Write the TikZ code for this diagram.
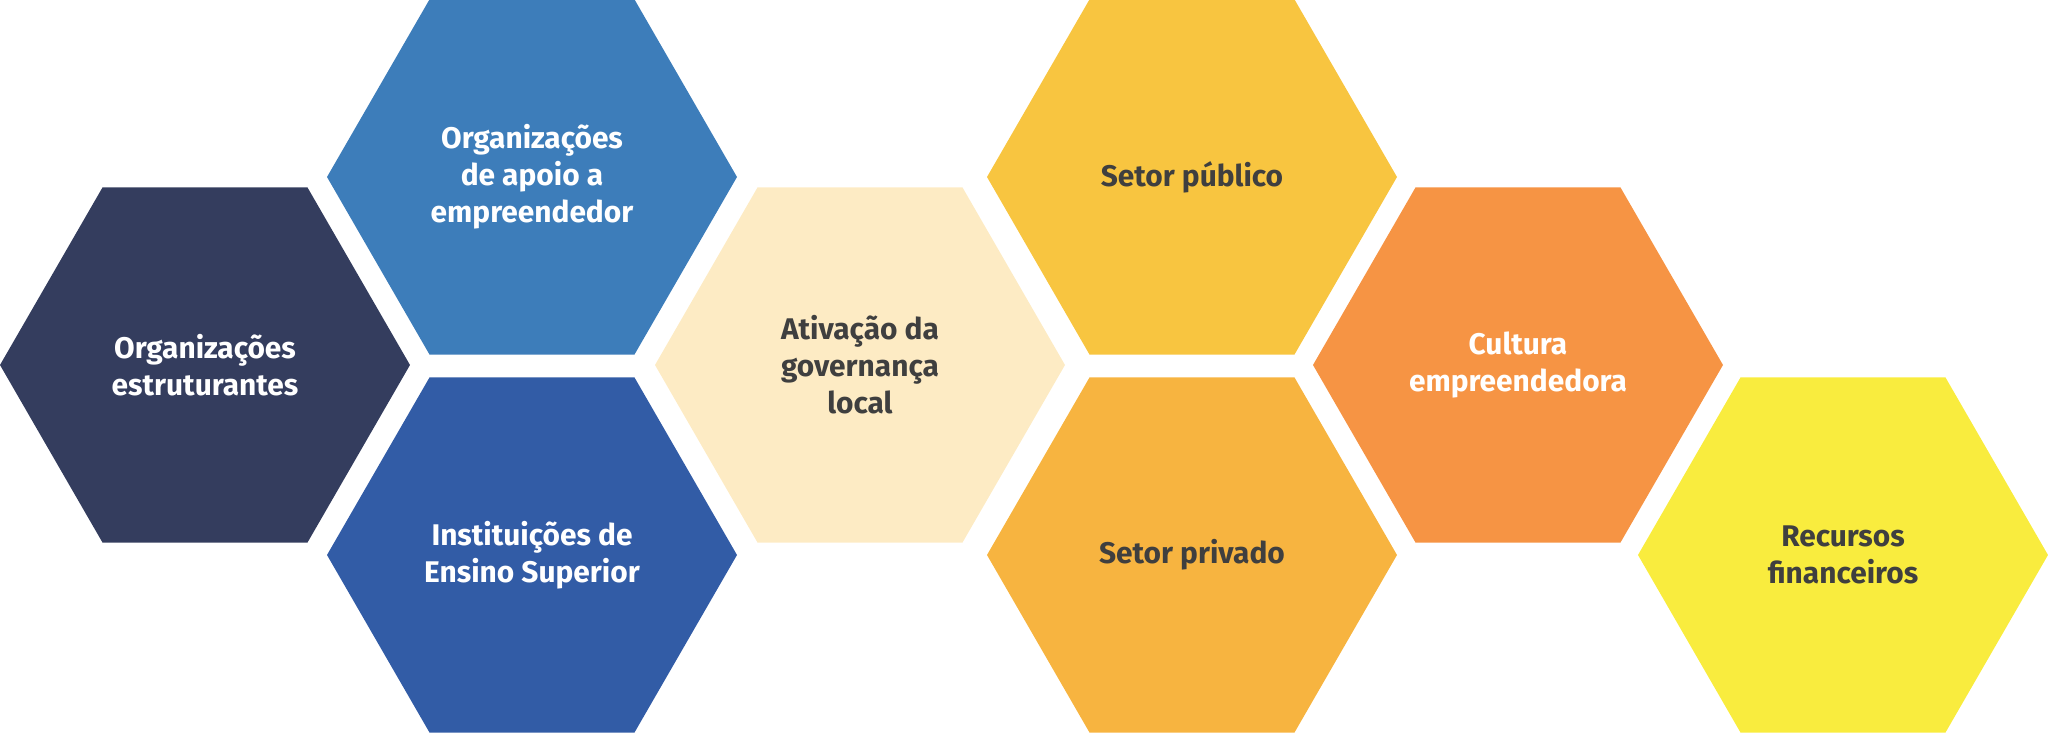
\documentclass[tikz,border=0pt]{standalone}
\usepackage{fontspec}
\setmainfont{Fira Sans}
\usetikzlibrary{shapes.geometric}
\definecolor{marinho}{HTML}{343D5E}
\definecolor{azul}{HTML}{3D7DBA}
\definecolor{anil}{HTML}{325CA6}
\definecolor{creme}{HTML}{FDEBC4}
\definecolor{ouro}{HTML}{F8C540}
\definecolor{ambar}{HTML}{F7B440}
\definecolor{laranja}{HTML}{F69444}
\definecolor{limao}{HTML}{F9EC3E}
\definecolor{grafite}{HTML}{3F3F3F}
\tikzset{
    hexa/.style={regular polygon, regular polygon sides=6, minimum size=4.1cm, inner sep=0pt, outer sep=0pt, draw=none, align=center, font=\fontsize{8.5}{10.5}\selectfont\bfseries},
    claro/.style={hexa, text=white},
    escuro/.style={hexa, text=grafite},
}
\begin{document}
\begin{tikzpicture}
    \useasboundingbox (0,0) rectangle (20.48,7.33);
    \node[claro, fill=marinho] (estr) at (2.05,3.68) {Organizações\\estruturantes};
    \node[claro, fill=azul] (apoio) at (5.32,5.56) {Organizações\\de apoio a\\empreendedor};
    \node[claro, fill=anil] (ies) at (5.32,1.78) {Instituições de\\Ensino Superior};
    \node[escuro, fill=creme] (gov) at (8.60,3.68) {Ativação da\\governança\\local};
    \node[escuro, fill=ouro] (pub) at (11.92,5.56) {Setor público};
    \node[escuro, fill=ambar] (priv) at (11.92,1.78) {Setor privado};
    \node[claro, fill=laranja] (cult) at (15.18,3.68) {Cultura\\empreendedora};
    \node[escuro, fill=limao] (rec) at (18.43,1.78) {Recursos\\financeiros};
\end{tikzpicture}
\end{document}
